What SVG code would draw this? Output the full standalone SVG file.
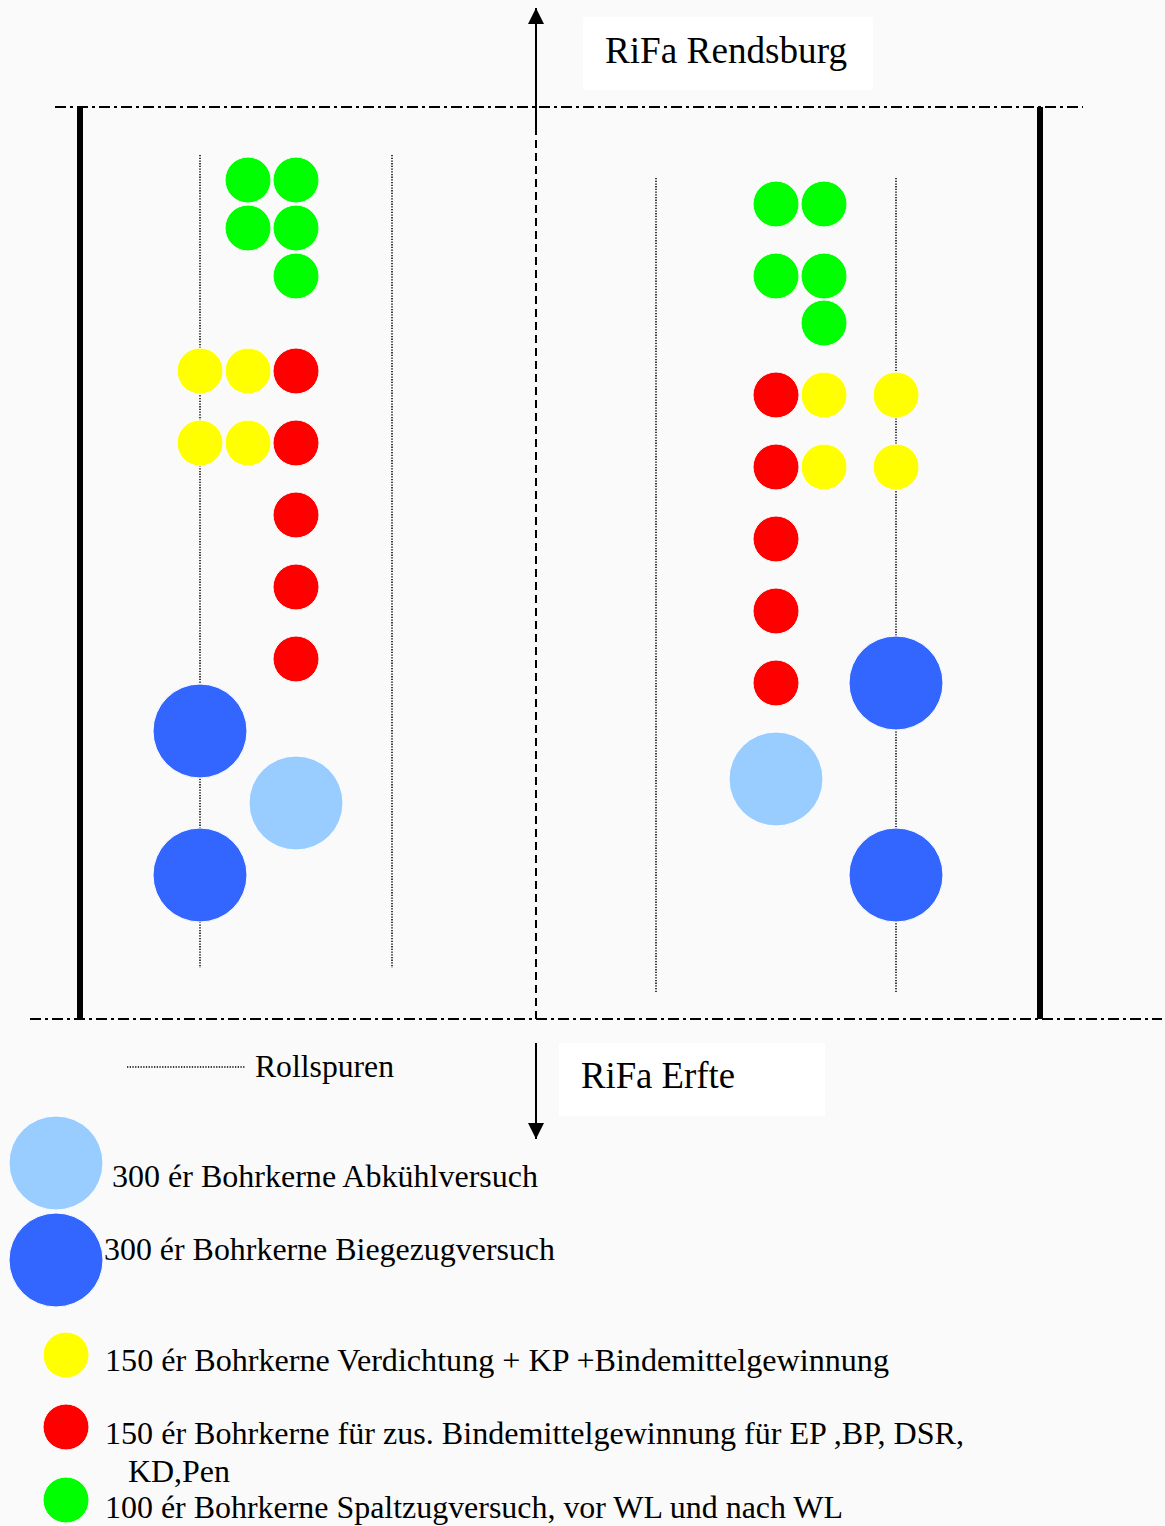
<svg xmlns="http://www.w3.org/2000/svg" width="1165" height="1526" viewBox="0 0 1165 1526">
<defs>
<style>
.t{font-family:"Liberation Serif","Times New Roman",serif;fill:#000}
.lbl{font-size:38px}
.lg{font-size:31px}
.border{stroke:#000;stroke-width:6;fill:none}
.dashdot{stroke:#000;stroke-width:2;stroke-dasharray:11,4,3,4;fill:none}
.track{stroke:#000;stroke-width:1.5;stroke-dasharray:1.3,1.4;fill:none}
.axis{stroke:#000;stroke-width:2;fill:none}
.g{fill:#00ff00;stroke:#fff;stroke-width:1}
.y{fill:#ffff00;stroke:#fff;stroke-width:1}
.r{fill:#ff0000;stroke:#fff;stroke-width:1}
.b{fill:#3366ff;stroke:#fff;stroke-width:1}
.lb{fill:#99ccff;stroke:#fff;stroke-width:1}
</style>
<marker id="ah" viewBox="0 0 16 16" refX="16" refY="8" markerWidth="16" markerHeight="16" markerUnits="userSpaceOnUse" orient="auto">
<path d="M0,0 L16,8 L0,16 Z" fill="#000"/>
</marker>
</defs>
<rect width="1165" height="1526" fill="#fafafa"/>

<g id="road-frame">
<line class="dashdot" x1="55" y1="107" x2="1083" y2="107"/>
<line class="dashdot" x1="30" y1="1019" x2="1162" y2="1019"/>
<line class="border" x1="80" y1="107" x2="80" y2="1019"/>
<line class="border" x1="1040" y1="107" x2="1040" y2="1019"/>
</g>

<g id="connectors">
<line class="axis" x1="536" y1="127" x2="536" y2="1019" stroke-dasharray="8,5"/>
<line class="axis" x1="536" y1="127" x2="536" y2="8" marker-end="url(#ah)"/>
<line class="axis" x1="536" y1="1043" x2="536" y2="1139" marker-end="url(#ah)"/>
</g>

<g id="tracks">
<line class="track" x1="200" y1="155" x2="200" y2="968"/>
<line class="track" x1="392" y1="155" x2="392" y2="968"/>
<line class="track" x1="656" y1="178" x2="656" y2="993"/>
<line class="track" x1="896" y1="178" x2="896" y2="993"/>
</g>

<g id="label-rendsburg">
<rect x="583" y="17" width="290" height="73" fill="#fff"/>
<text class="t lbl" x="605" y="63" textLength="242" lengthAdjust="spacingAndGlyphs">RiFa Rendsburg</text>
</g>
<g id="label-erfte">
<rect x="559" y="1043" width="266" height="73" fill="#fff"/>
<text class="t lbl" x="581" y="1088" textLength="154" lengthAdjust="spacingAndGlyphs">RiFa Erfte</text>
</g>

<g id="cores-left">
<circle class="g" cx="248" cy="180" r="23"/>
<circle class="g" cx="296" cy="180" r="23"/>
<circle class="g" cx="248" cy="228" r="23"/>
<circle class="g" cx="296" cy="228" r="23"/>
<circle class="g" cx="296" cy="276" r="23"/>
<circle class="y" cx="200" cy="371" r="23"/>
<circle class="y" cx="248" cy="371" r="23"/>
<circle class="r" cx="296" cy="371" r="23"/>
<circle class="y" cx="200" cy="443" r="23"/>
<circle class="y" cx="248" cy="443" r="23"/>
<circle class="r" cx="296" cy="443" r="23"/>
<circle class="r" cx="296" cy="515" r="23"/>
<circle class="r" cx="296" cy="587" r="23"/>
<circle class="r" cx="296" cy="659" r="23"/>
<circle class="b" cx="200" cy="731" r="47"/>
<circle class="lb" cx="296" cy="803" r="47"/>
<circle class="b" cx="200" cy="875" r="47"/>
</g>

<g id="cores-right">
<circle class="g" cx="776" cy="204" r="23"/>
<circle class="g" cx="824" cy="204" r="23"/>
<circle class="g" cx="776" cy="276" r="23"/>
<circle class="g" cx="824" cy="276" r="23"/>
<circle class="g" cx="824" cy="323" r="23"/>
<circle class="r" cx="776" cy="395" r="23"/>
<circle class="y" cx="824" cy="395" r="23"/>
<circle class="y" cx="896" cy="395" r="23"/>
<circle class="r" cx="776" cy="467" r="23"/>
<circle class="y" cx="824" cy="467" r="23"/>
<circle class="y" cx="896" cy="467" r="23"/>
<circle class="r" cx="776" cy="539" r="23"/>
<circle class="r" cx="776" cy="611" r="23"/>
<circle class="r" cx="776" cy="683" r="23"/>
<circle class="b" cx="896" cy="683" r="47"/>
<circle class="lb" cx="776" cy="779" r="47"/>
<circle class="b" cx="896" cy="875" r="47"/>
</g>

<g id="legend-rollspuren">
<line class="track" x1="127" y1="1067" x2="245" y2="1067"/>
<text class="t lg" x="255" y="1077" textLength="139" lengthAdjust="spacingAndGlyphs">Rollspuren</text>
</g>
<g id="legend-abkuehl">
<circle class="lb" cx="56" cy="1163" r="47"/>
<text class="t lg" x="112" y="1187" textLength="426" lengthAdjust="spacingAndGlyphs">300 ér Bohrkerne Abkühlversuch</text>
</g>
<g id="legend-biegezug">
<circle class="b" cx="56" cy="1260" r="47"/>
<text class="t lg" x="104" y="1260" textLength="451" lengthAdjust="spacingAndGlyphs">300 ér Bohrkerne Biegezugversuch</text>
</g>
<g id="legend-verdichtung">
<circle class="y" cx="66" cy="1355" r="23"/>
<text class="t lg" x="105" y="1371" textLength="784" lengthAdjust="spacingAndGlyphs">150 ér Bohrkerne Verdichtung + KP +Bindemittelgewinnung</text>
</g>
<g id="legend-bindemittel">
<circle class="r" cx="66" cy="1427" r="23"/>
<text class="t lg" x="105" y="1444" textLength="859" lengthAdjust="spacingAndGlyphs">150 ér Bohrkerne für zus. Bindemittelgewinnung für EP ,BP, DSR,</text>
<text class="t lg" x="128" y="1482" textLength="102" lengthAdjust="spacingAndGlyphs">KD,Pen</text>
</g>
<g id="legend-spaltzug">
<circle class="g" cx="66" cy="1500" r="23"/>
<text class="t lg" x="105" y="1518" textLength="738" lengthAdjust="spacingAndGlyphs">100 ér Bohrkerne Spaltzugversuch, vor WL und nach WL</text>
</g>
</svg>
